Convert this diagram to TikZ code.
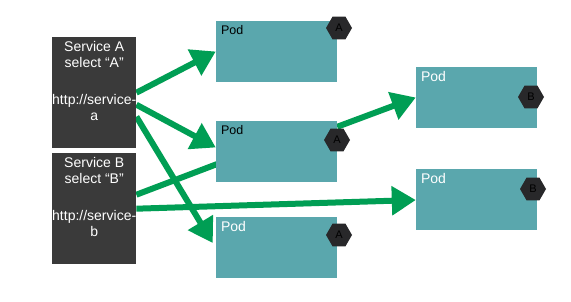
\documentclass[tikz,border=0pt]{standalone}
\usepackage{fontspec}
\setmainfont{Liberation Sans}
\usetikzlibrary{shapes.geometric, arrows.meta, positioning, backgrounds}

\definecolor{svcgray}{RGB}{58,58,58}
\definecolor{podteal}{RGB}{90,167,173}
\definecolor{linkgreen}{RGB}{0,158,84}
\definecolor{taggray}{RGB}{40,40,42}

\begin{document}
\begin{tikzpicture}[x=1pt, y=-1pt,
    svc/.style={rectangle, fill=svcgray, minimum width=84pt, minimum height=111pt, inner sep=0pt},
    svctext/.style={text=white, align=center, font=\fontsize{14}{16}\selectfont, inner sep=0pt},
    pod/.style={rectangle, fill=podteal, minimum width=121pt, minimum height=61pt, inner sep=0pt},
    podlabel/.style={inner sep=0pt, font=\fontsize{12.5}{14}\selectfont},
    tag/.style={regular polygon, regular polygon sides=6, fill=taggray, minimum size=26pt, inner sep=0pt, font=\fontsize{11}{13}\selectfont},
    arrow/.style={-{Triangle[length=24pt, width=28pt]}, line width=6pt, draw=linkgreen},
    link/.style={line width=6pt, draw=linkgreen}
]
    \useasboundingbox (0,0) rectangle (571,302);

    % Services
    \node[svc, anchor=north west] (svcA) at (52,37) {};
    \node[svctext, below=4pt of svcA.north] (svcAtext) {Service A\\select “A”\\[21pt]http://service-\\a};
    \node[svc, anchor=north west] (svcB) at (52,153) {};
    \node[svctext, below=4pt of svcB.north] (svcBtext) {Service B\\select “B”\\[21pt]http://service-\\b};

    % Pods with label A
    \node[pod] (podA1) at (276.5,51.5) {};
    \node[podlabel, below right=4pt and 5pt of podA1.north west] (podA1text) {Pod};
    \node[tag] (tagA1) at (339,28) {A};
    \node[pod] (podA2) at (276.5,151.5) {};
    \node[podlabel, below right=4pt and 5pt of podA2.north west] (podA2text) {Pod};
    \node[tag] (tagA2) at (337,140) {A};
    \node[pod] (podA3) at (276.5,248) {};
    \node[podlabel, text=white, font=\fontsize{14}{16}\selectfont, below right=4pt and 5pt of podA3.north west] (podA3text) {Pod};
    \node[tag] (tagA3) at (339,235) {A};

    % Pods with label B
    \node[pod] (podB1) at (476.5,97.5) {};
    \node[podlabel, text=white, font=\fontsize{14}{16}\selectfont, below right=4pt and 5pt of podB1.north west] (podB1text) {Pod};
    \node[tag] (tagB1) at (531,97) {B};
    \node[pod] (podB2) at (476.5,200) {};
    \node[podlabel, text=white, font=\fontsize{14}{16}\selectfont, below right=4pt and 5pt of podB2.north west] (podB2text) {Pod};
    \node[tag] (tagB2) at (533,189) {B};

    % Connections
    \begin{scope}[on background layer]
        \fill[white] (0,0) rectangle (571,302);
        \draw[arrow] (svcA.east) -- (podA1.west);
        \draw[arrow] ([yshift=-12pt]svcA.east) -- ([yshift=4pt]podA2.west);
        \draw[arrow] ([yshift=-24pt]svcA.east) -- ([xshift=-3pt, yshift=5pt]podA3.west);
        \draw[link] ([yshift=14pt]svcB.east) -- ([xshift=8pt, yshift=-10pt]podA2.west);
        \draw[arrow] (svcB.east) -- (podB2.west);
        \draw[arrow] ([yshift=-6pt]podA2.north east) -- (podB1.west);
    \end{scope}
\end{tikzpicture}
\end{document}
